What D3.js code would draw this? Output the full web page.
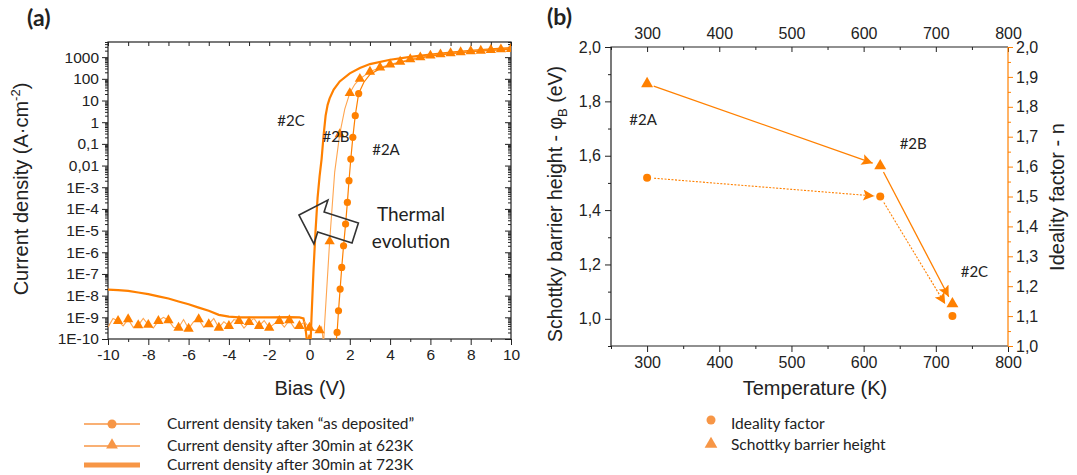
<!DOCTYPE html>
<html>
<head>
<meta charset="utf-8">
<script src="https://cdn.jsdelivr.net/npm/d3@7"></script>
<style>
body { margin: 0; background: #fff; }
svg text { font-family: "Liberation Sans", Arial, sans-serif; fill: #222; }
svg .cal { font-family: Lato, "Open Sans", sans-serif; }
</style>
</head>
<body>
<svg width="1077" height="475"></svg>
<script>
// ---------- data, panel (a) ----------
var jTicks = [1e3, 1e2, 1e1, 1, 1e-1, 1e-2, 1e-3, 1e-4, 1e-5, 1e-6, 1e-7, 1e-8, 1e-9, 1e-10];
var jTickLabels = ["1000", "100", "10", "1", "0,1", "0,01", "1E-3", "1E-4", "1E-5", "1E-6", "1E-7", "1E-8", "1E-9", "1E-10"];
var biasTicks = [-10, -8, -6, -4, -2, 0, 2, 4, 6, 8, 10];

// as deposited (#2A), circles
var biasA = [1.30, 1.37, 1.44, 1.52, 1.60, 1.69, 1.79, 1.88, 1.96, 2.05, 2.15, 2.27, 2.44,
  2.7, 3.0, 3.5, 4, 5, 6, 7, 8, 9, 10];
var jA = [5e-11, 2e-10, 2e-9, 2e-8, 2e-7, 2e-6, 2e-5, 2e-4, 2e-3, 0.02, 0.2, 2, 21,
  70, 160, 295, 427, 741, 1122, 1445, 1778, 2042, 2291];

// after 30 min at 623K (#2B), triangles
var biasB = [-10, -9.75, -9.5, -9.25, -9, -8.75, -8.5, -8.25, -8, -7.75, -7.5, -7.25, -7, -6.75,
  -6.5, -6.25, -6, -5.75, -5.5, -5.25, -5, -4.75, -4.5, -4.25, -4, -3.75, -3.5, -3.25, -3,
  -2.75, -2.5, -2.25, -2, -1.75, -1.5, -1.25, -1, -0.75, -0.5, -0.25, 0, 0.25, 0.5, 0.6, 0.7,
  0.75, 1, 1.25, 1.5, 1.75, 2, 2.25, 2.5, 3, 3.5, 4, 4.5, 5, 5.5, 6, 6.5, 7, 7.5, 8, 8.5, 9, 9.5, 10];
var jB = [3.5e-10, 8.9e-10, 6.8e-10, 4.0e-10, 8.1e-10, 3.5e-10, 4.3e-10, 8.9e-10, 4.5e-10, 3.2e-10,
  6.8e-10, 1.0e-9, 7.4e-10, 3.5e-10, 3.3e-10, 7.9e-10, 3.0e-10, 6.3e-10, 8.1e-10, 3.5e-10, 4.8e-10,
  8.9e-10, 3.3e-10, 6.3e-10, 4.0e-10, 7.9e-10, 6.8e-10, 3.2e-10, 6.0e-10, 8.9e-10, 4.0e-10, 7.1e-10,
  3.3e-10, 5.0e-10, 6.8e-10, 3.5e-10, 7.4e-10, 3.2e-10, 4.0e-10, 6.3e-10, 3.3e-10, 2.5e-10, 2.5e-10,
  3.5e-10, 6.3e-11, 5e-10, 3.2e-6, 5e-3, 0.28, 4, 22, 56, 100, 214, 331, 457, 617, 794, 977, 1175,
  1349, 1514, 1698, 1862, 1995, 2138, 2291, 2399];

// after 30 min at 723K (#2C), thick line
var biasC = [-10, -9.5, -9, -8.5, -8, -7.5, -7, -6.5, -6, -5.5, -5, -4.5, -4, -3.5, -3, -2, -1, -0.5,
  -0.3, -0.2, -0.1, 0, 0.05, 0.1, 0.2, 0.3, 0.4, 0.5, 0.6, 0.7, 0.8, 0.9, 1, 1.2, 1.5, 2, 2.5, 3,
  4, 5, 6, 7, 8, 9, 10];
var jC = [1.9e-8, 1.8e-8, 1.66e-8, 1.4e-8, 1.17e-8, 9.3e-9, 7.4e-9, 5.4e-9, 4.0e-9, 2.8e-9, 2.0e-9,
  1.3e-9, 1.07e-9, 1.0e-9, 1.0e-9, 1.0e-9, 1.02e-9, 1.0e-9, 8.9e-10, 3.2e-10, 5e-11, 1.6e-10, 6e-11,
  1e-9, 1.6e-7, 1e-5, 3.2e-4, 3.2e-3, 0.02, 0.25, 2, 6.3, 12.6, 32, 76, 178, 316, 479, 759, 1023,
  1318, 1622, 1950, 2291, 2630];

var sampleNamesA = ["#2A", "#2B", "#2C"];
var legendA = ["Current density taken \u201cas deposited\u201d",
  "Current density after 30min at 623K",
  "Current density after 30min at 723K"];

// ---------- data, panel (b) ----------
var temps = [300, 623, 723];
var barrier = [1.865, 1.563, 1.055];
var ideality = [1.563, 1.50, 1.10];
var sampleNamesB = ["#2A", "#2B", "#2C"];
var legendB = ["Ideality factor", "Schottky barrier height"];

var orange = "#ff8000";
var lightOrange = "#ffa54f";
var legendOrange = "#f79646";

var svg = d3.select("svg");
var defs = svg.append("defs");

function zip(a, b) {
  return a.map(function(v, i) { return [v, b[i]]; });
}

// =============== panel (a) ===============
var pa = {l: 108, r: 511, t: 42, b: 339};
var xA = d3.scaleLinear().domain([-10, 10]).range([pa.l, pa.r]);
var yA = d3.scaleLog().domain([1e-10, 5000]).range([pa.b, pa.t]);

var minorJ = [];
for (var e = -10; e <= 3; e++) {
  for (var k = 2; k <= 9; k++) {
    var v = k * Math.pow(10, e);
    if (v <= 5000) minorJ.push(v);
  }
}
var minorBias = d3.range(-9, 10, 2);
var allBias = d3.range(-10, 11, 1);

function clean(g) { g.select(".domain").remove(); g.selectAll("line").attr("stroke", "#222"); }

svg.append("g").attr("transform", "translate(" + pa.l + ",0)")
  .call(d3.axisLeft(yA).tickValues(jTicks).tickSize(6).tickPadding(3)
    .tickFormat(function(d, i) { return jTickLabels[i]; }))
  .call(clean)
  .selectAll("text").style("font-size", "15.5px").attr("fill", "#222");
svg.append("g").attr("transform", "translate(" + pa.l + ",0)")
  .call(d3.axisLeft(yA).tickValues(minorJ).tickSize(3).tickFormat(""))
  .call(clean);
svg.append("g").attr("transform", "translate(" + pa.r + ",0)")
  .call(d3.axisLeft(yA).tickValues(jTicks).tickSize(6).tickFormat(""))
  .call(clean);
svg.append("g").attr("transform", "translate(" + pa.r + ",0)")
  .call(d3.axisLeft(yA).tickValues(minorJ).tickSize(3).tickFormat(""))
  .call(clean);
svg.append("g").attr("transform", "translate(0," + pa.b + ")")
  .call(d3.axisBottom(xA).tickValues(biasTicks).tickSize(6).tickPadding(4)
    .tickFormat(function(d) { return String(d); }))
  .call(clean)
  .selectAll("text").style("font-size", "15.5px").attr("fill", "#222");
svg.append("g").attr("transform", "translate(0," + pa.b + ")")
  .call(d3.axisBottom(xA).tickValues(minorBias).tickSize(3).tickFormat(""))
  .call(clean);
svg.append("g").attr("transform", "translate(0," + pa.t + ")")
  .call(d3.axisBottom(xA).tickValues(allBias).tickSize(4).tickFormat(""))
  .call(clean);

svg.append("rect").attr("x", pa.l).attr("y", pa.t)
  .attr("width", pa.r - pa.l).attr("height", pa.b - pa.t)
  .attr("fill", "none").attr("stroke", "#222").attr("stroke-width", 1.2);

defs.append("clipPath").attr("id", "clipA").append("rect")
  .attr("x", pa.l).attr("y", pa.t).attr("width", pa.r - pa.l).attr("height", pa.b - pa.t);

var plotA = svg.append("g").attr("clip-path", "url(#clipA)");
var lineA = d3.line().x(function(d) { return xA(d[0]); }).y(function(d) { return yA(d[1]); });

plotA.append("path").datum(zip(biasC, jC)).attr("d", lineA)
  .attr("fill", "none").attr("stroke", orange).attr("stroke-width", 2.2);
plotA.append("path").datum(zip(biasB, jB)).attr("d", lineA)
  .attr("fill", "none").attr("stroke", lightOrange).attr("stroke-width", 1.1);
plotA.append("path").datum(zip(biasA, jA)).attr("d", lineA)
  .attr("fill", "none").attr("stroke", orange).attr("stroke-width", 1.2);

var tri = d3.symbol().type(d3.symbolTriangle).size(46);
plotA.selectAll(".triB")
  .data(zip(biasB, jB).filter(function(d) { return d[0] > -10 && Math.abs(d[0] * 2 - Math.round(d[0] * 2)) < 1e-9; }))
  .enter().append("path").attr("class", "triB")
  .attr("d", tri)
  .attr("transform", function(d) { return "translate(" + xA(d[0]) + "," + yA(d[1]) + ")"; })
  .attr("fill", orange);
plotA.selectAll(".cirA")
  .data(zip(biasA, jA).filter(function(d) { return d[0] > 1.3 && d[0] < 2.5; }))
  .enter().append("circle").attr("class", "cirA")
  .attr("cx", function(d) { return xA(d[0]); })
  .attr("cy", function(d) { return yA(d[1]); })
  .attr("r", 3.6).attr("fill", orange);

// sample names
var namePosA = [[386, 150], [336, 137], [291, 121]];
sampleNamesA.forEach(function(n, i) {
  svg.append("text").attr("class", "cal").attr("x", namePosA[i][0]).attr("y", namePosA[i][1])
    .attr("dy", "0.35em").attr("text-anchor", "middle")
    .style("font-size", "15px").attr("fill", "#333").text(n);
});

// thermal evolution block arrow
svg.append("path")
  .attr("d", "M0,0L23,-23L23,-10.5L59,-10.5L59,10.5L23,10.5L23,23Z")
  .attr("transform", "translate(299,215) rotate(17.7)")
  .attr("fill", "none").attr("stroke", "#333").attr("stroke-width", 1.6);
svg.append("text").attr("class", "cal").attr("x", 411).attr("y", 214).attr("dy", "0.35em")
  .attr("text-anchor", "middle").style("font-size", "19px").attr("fill", "#333").text("Thermal");
svg.append("text").attr("class", "cal").attr("x", 411).attr("y", 241).attr("dy", "0.35em")
  .attr("text-anchor", "middle").style("font-size", "19px").attr("fill", "#333").text("evolution");

// axis titles
svg.append("text").attr("x", 310).attr("y", 388).attr("dy", "0.35em").attr("text-anchor", "middle")
  .style("font-size", "20px").text("Bias (V)");
var ytA = svg.append("text").attr("transform", "translate(28,189) rotate(-90)")
  .attr("text-anchor", "middle").style("font-size", "20px");
ytA.append("tspan").text("Current density (A\u00b7cm");
ytA.append("tspan").attr("dy", -8).style("font-size", "13px").text("-2");
ytA.append("tspan").attr("dy", 8).text(")");

svg.append("text").attr("class", "cal").attr("x", 27).attr("y", 26)
  .style("font-size", "23px").style("font-weight", "bold").attr("fill", "#111").text("(a)");

// legend (a)
var legY = [424, 446, 465];
legendA.forEach(function(t, i) {
  var g = svg.append("g");
  g.append("line").attr("x1", 84).attr("x2", 140).attr("y1", legY[i]).attr("y2", legY[i])
    .attr("stroke", legendOrange).attr("stroke-width", i === 2 ? 5 : 1.6);
  if (i === 0) g.append("circle").attr("cx", 112).attr("cy", legY[i]).attr("r", 4.5).attr("fill", legendOrange);
  if (i === 1) g.append("path").attr("d", d3.symbol().type(d3.symbolTriangle).size(60))
    .attr("transform", "translate(112," + (legY[i] - 1) + ")").attr("fill", legendOrange);
  g.append("text").attr("class", "cal").attr("x", 167).attr("y", legY[i]).attr("dy", "0.35em")
    .style("font-size", "15.5px").attr("fill", "#333").text(t);
});

// =============== panel (b) ===============
var pb = {l: 611, r: 1008, t: 47, b: 346};
var xB = d3.scaleLinear().domain([250, 800]).range([pb.l, pb.r]);
var yBL = d3.scaleLinear().domain([0.9, 2.0]).range([pb.b, pb.t]);
var yBR = d3.scaleLinear().domain([1.0, 2.0]).range([pb.b, pb.t]);
var comma = d3.formatLocale({decimal: ",", thousands: ".", grouping: [3], currency: ["", ""]}).format(".1f");

var tMajor = [300, 400, 500, 600, 700, 800];
var tMinor = [250, 350, 450, 550, 650, 750];

svg.append("g").attr("transform", "translate(0," + pb.b + ")")
  .call(d3.axisBottom(xB).tickValues(tMajor).tickSize(6).tickPadding(5))
  .call(clean).selectAll("text").style("font-size", "16px").attr("fill", "#222");
svg.append("g").attr("transform", "translate(0," + pb.b + ")")
  .call(d3.axisBottom(xB).tickValues(tMinor).tickSize(3).tickFormat(""))
  .call(clean);
svg.append("g").attr("transform", "translate(0," + pb.t + ")")
  .call(d3.axisTop(xB).tickValues(tMajor).tickSize(-5).tickPadding(8))
  .call(clean).selectAll("text").style("font-size", "16px").attr("fill", "#222");
svg.append("g").attr("transform", "translate(0," + pb.t + ")")
  .call(d3.axisTop(xB).tickValues(tMinor).tickSize(-3).tickFormat(""))
  .call(clean);
svg.append("g").attr("transform", "translate(" + pb.l + ",0)")
  .call(d3.axisLeft(yBL).tickValues([1.0, 1.2, 1.4, 1.6, 1.8, 2.0]).tickSize(6).tickPadding(4).tickFormat(comma))
  .call(clean).selectAll("text").style("font-size", "16px").attr("fill", "#222");
svg.append("g").attr("transform", "translate(" + pb.l + ",0)")
  .call(d3.axisLeft(yBL).tickValues([0.9, 1.1, 1.3, 1.5, 1.7, 1.9]).tickSize(3).tickFormat(""))
  .call(clean);
var rAx = svg.append("g").attr("transform", "translate(" + pb.r + ",0)")
  .call(d3.axisRight(yBR).tickValues(d3.range(10, 21).map(function(d) { return d / 10; }))
    .tickSize(5).tickPadding(3).tickFormat(comma));
rAx.select(".domain").remove();
rAx.selectAll("line").attr("stroke", orange);
rAx.selectAll("text").style("font-size", "16px").attr("fill", orange);
var rAx2 = svg.append("g").attr("transform", "translate(" + pb.r + ",0)")
  .call(d3.axisRight(yBR).tickValues(d3.range(10, 20).map(function(d) { return d / 10 + 0.05; }))
    .tickSize(3).tickFormat(""));
rAx2.select(".domain").remove();
rAx2.selectAll("line").attr("stroke", orange);

svg.append("path").attr("d", "M" + pb.r + "," + pb.t + "H" + pb.l + "V" + pb.b + "H" + pb.r)
  .attr("fill", "none").attr("stroke", "#222").attr("stroke-width", 1.2);
svg.append("line").attr("x1", pb.r).attr("x2", pb.r).attr("y1", pb.t).attr("y2", pb.b)
  .attr("stroke", orange).attr("stroke-width", 1.2);

defs.append("marker").attr("id", "ah").attr("viewBox", "0 0 10 10")
  .attr("refX", 10).attr("refY", 5).attr("markerWidth", 15).attr("markerHeight", 11)
  .attr("markerUnits", "userSpaceOnUse").attr("orient", "auto")
  .append("path").attr("d", "M0,0L10,5L0,10L2,5Z").attr("fill", orange);

function seg(p, q, s0, s1) {
  var dx = q[0] - p[0], dy = q[1] - p[1], L = Math.sqrt(dx * dx + dy * dy);
  var ux = dx / L, uy = dy / L;
  return [p[0] + ux * s0, p[1] + uy * s0, q[0] - ux * s1, q[1] - uy * s1];
}

var ptsTri = temps.map(function(t, i) { return [xB(t), yBL(barrier[i])]; });
var ptsCir = temps.map(function(t, i) { return [xB(t), yBR(ideality[i])]; });

for (var i = 0; i < temps.length - 1; i++) {
  var s = seg(ptsTri[i], ptsTri[i + 1], 7, 8);
  svg.append("line").attr("x1", s[0]).attr("y1", s[1]).attr("x2", s[2]).attr("y2", s[3])
    .attr("stroke", orange).attr("stroke-width", 1.3).attr("marker-end", "url(#ah)");
  var c = seg(ptsCir[i], ptsCir[i + 1], 7, i === 0 ? 6 : 14);
  svg.append("line").attr("x1", c[0]).attr("y1", c[1]).attr("x2", c[2]).attr("y2", c[3])
    .attr("stroke", orange).attr("stroke-width", 1.1).attr("stroke-dasharray", "2,1.5")
    .attr("marker-end", "url(#ah)");
}

var triB = d3.symbol().type(d3.symbolTriangle).size(62);
svg.selectAll(".triBar").data(ptsTri).enter().append("path").attr("class", "triBar")
  .attr("d", triB).attr("transform", function(d) { return "translate(" + d[0] + "," + d[1] + ")"; })
  .attr("fill", orange);
svg.selectAll(".cirId").data(ptsCir).enter().append("circle").attr("class", "cirId")
  .attr("cx", function(d) { return d[0]; }).attr("cy", function(d) { return d[1]; })
  .attr("r", 4).attr("fill", orange);

var nameOffB = [[-4, 36], [33, -22], [22, -32]];
sampleNamesB.forEach(function(n, i) {
  svg.append("text").attr("class", "cal").attr("x", ptsTri[i][0] + nameOffB[i][0])
    .attr("y", ptsTri[i][1] + nameOffB[i][1]).attr("dy", "0.35em").attr("text-anchor", "middle")
    .style("font-size", "15px").attr("fill", "#333").text(n);
});

svg.append("text").attr("x", 815).attr("y", 388).attr("dy", "0.35em").attr("text-anchor", "middle")
  .style("font-size", "20px").text("Temperature (K)");
var ytB = svg.append("text").attr("transform", "translate(562,204) rotate(-90)")
  .attr("text-anchor", "middle").style("font-size", "19.5px");
ytB.append("tspan").text("Schottky barrier height - \u03c6");
ytB.append("tspan").attr("dy", 5).style("font-size", "13px").text("B");
ytB.append("tspan").attr("dy", -5).text(" (eV)");
svg.append("text").attr("transform", "translate(1064,197) rotate(-90)")
  .attr("text-anchor", "middle").style("font-size", "20px").attr("fill", orange)
  .text("Ideality factor - n");

svg.append("text").attr("class", "cal").attr("x", 547).attr("y", 25)
  .style("font-size", "23px").style("font-weight", "bold").attr("fill", "#111").text("(b)");

// legend (b)
var legYB = [420, 445];
svg.append("circle").attr("cx", 711).attr("cy", legYB[0]).attr("r", 4.5).attr("fill", legendOrange);
svg.append("path").attr("d", d3.symbol().type(d3.symbolTriangle).size(70))
  .attr("transform", "translate(711," + (legYB[1] - 1) + ")").attr("fill", legendOrange);
legendB.forEach(function(t, i) {
  svg.append("text").attr("class", "cal").attr("x", 731).attr("y", legYB[i] + (i === 0 ? 4 : 0))
    .attr("dy", "0.35em").style("font-size", "15.5px").attr("fill", "#333").text(t);
});
</script>
</body>
</html>
